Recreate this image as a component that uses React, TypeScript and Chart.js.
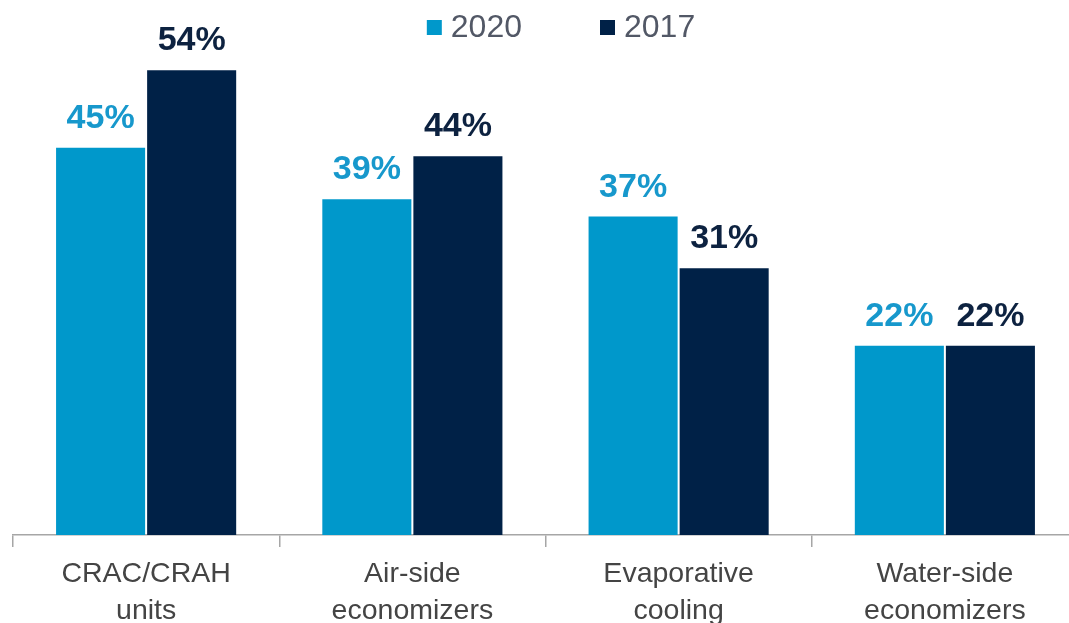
import React, { useEffect, useRef } from "react";
import { Chart, registerables } from "chart.js";

Chart.register(...registerables);

const categories: string[][] = [
  ["CRAC/CRAH", "units"],
  ["Air-side", "economizers"],
  ["Evaporative", "cooling"],
  ["Water-side", "economizers"],
];
const seriesNames = ["2020", "2017"];
const values2020 = [45, 39, 37, 22];
const values2017 = [54, 44, 31, 22];

const COLORS = ["#0098CB", "#002147"];
const LABEL_COLORS = ["#1798cc", "#0d2240"];

const legendPlugin = {
  id: "customLegend",
  afterDraw(chart: any) {
    const ctx = chart.ctx;
    const ca = chart.chartArea;
    const cx = (ca.left + ca.right) / 2 + 15.5;
    const y = 28;
    ctx.save();
    ctx.font = "32px 'Liberation Sans', Arial, sans-serif";
    ctx.textBaseline = "middle";
    ctx.textAlign = "left";
    const items = chart.data.datasets.map((d: any) => ({
      text: d.label,
      color: d.backgroundColor,
      w: ctx.measureText(d.label).width,
    }));
    const box = 15;
    const textOff = 24;
    const gap = 78;
    let total = 0;
    items.forEach((it: any, i: number) => {
      total += textOff + it.w + (i < items.length - 1 ? gap : 0);
    });
    let x = cx - total / 2;
    items.forEach((it: any) => {
      ctx.fillStyle = it.color;
      ctx.fillRect(x, y - box / 2 - 0.5, box, box);
      ctx.fillStyle = "#525866";
      ctx.fillText(it.text, x + textOff, y);
      x += textOff + it.w + gap;
    });
    ctx.restore();
  },
};

const dataLabelPlugin = {
  id: "dataLabels",
  afterDatasetsDraw(chart: any) {
    const ctx = chart.ctx;
    ctx.save();
    ctx.font = "bold 34px 'Liberation Sans', Arial, sans-serif";
    ctx.textAlign = "center";
    ctx.textBaseline = "alphabetic";
    chart.data.datasets.forEach((ds: any, di: number) => {
      const meta = chart.getDatasetMeta(di);
      ctx.fillStyle = LABEL_COLORS[di];
      meta.data.forEach((el: any, i: number) => {
        ctx.fillText(ds.data[i] + "%", el.x, el.y - 20);
      });
    });
    ctx.restore();
  },
};

export default function App() {
  const canvasRef = useRef<HTMLCanvasElement>(null);

  useEffect(() => {
    if (!canvasRef.current) return;
    const chart = new Chart(canvasRef.current, {
      type: "bar",
      data: {
        labels: categories,
        datasets: [
          {
            label: seriesNames[0],
            data: values2020,
            backgroundColor: COLORS[0],
            categoryPercentage: 0.684,
            barPercentage: 0.978,
          },
          {
            label: seriesNames[1],
            data: values2017,
            backgroundColor: COLORS[1],
            categoryPercentage: 0.684,
            barPercentage: 0.978,
          },
        ],
      },
      options: {
        animation: false,
        responsive: true,
        maintainAspectRatio: false,
        layout: { padding: { top: 53, left: 13, right: 22, bottom: 0 } },
        plugins: {
          legend: { display: false },
          tooltip: { enabled: false },
        },
        scales: {
          x: {
            grid: {
              display: true,
              drawOnChartArea: false,
              drawTicks: true,
              tickLength: 12,
              color: "#a6a6a6",
              lineWidth: 1.5,
              offset: true,
            },
            border: { display: true, color: "#a6a6a6", width: 1.5 },
            ticks: {
              color: "#444444",
              padding: 9,
              font: {
                family: "'Liberation Sans', Arial, sans-serif",
                size: 28.5,
                lineHeight: 1.3,
              },
              maxRotation: 0,
              autoSkip: false,
            },
            afterFit: (s: any) => {
              s.height = 88;
            },
          },
          y: {
            display: false,
            min: 0,
            max: 56,
          },
        },
      },
      plugins: [dataLabelPlugin, legendPlugin],
    });
    return () => chart.destroy();
  }, []);

  return (
    <div
      style={{
        position: "fixed",
        left: 0,
        top: 0,
        width: "1069px",
        height: "623px",
        overflow: "hidden",
        background: "#ffffff",
      }}
    >
      <div style={{ position: "absolute", left: 0, top: 0, width: "1100px", height: "623px" }}>
        <canvas ref={canvasRef} />
      </div>
    </div>
  );
}
